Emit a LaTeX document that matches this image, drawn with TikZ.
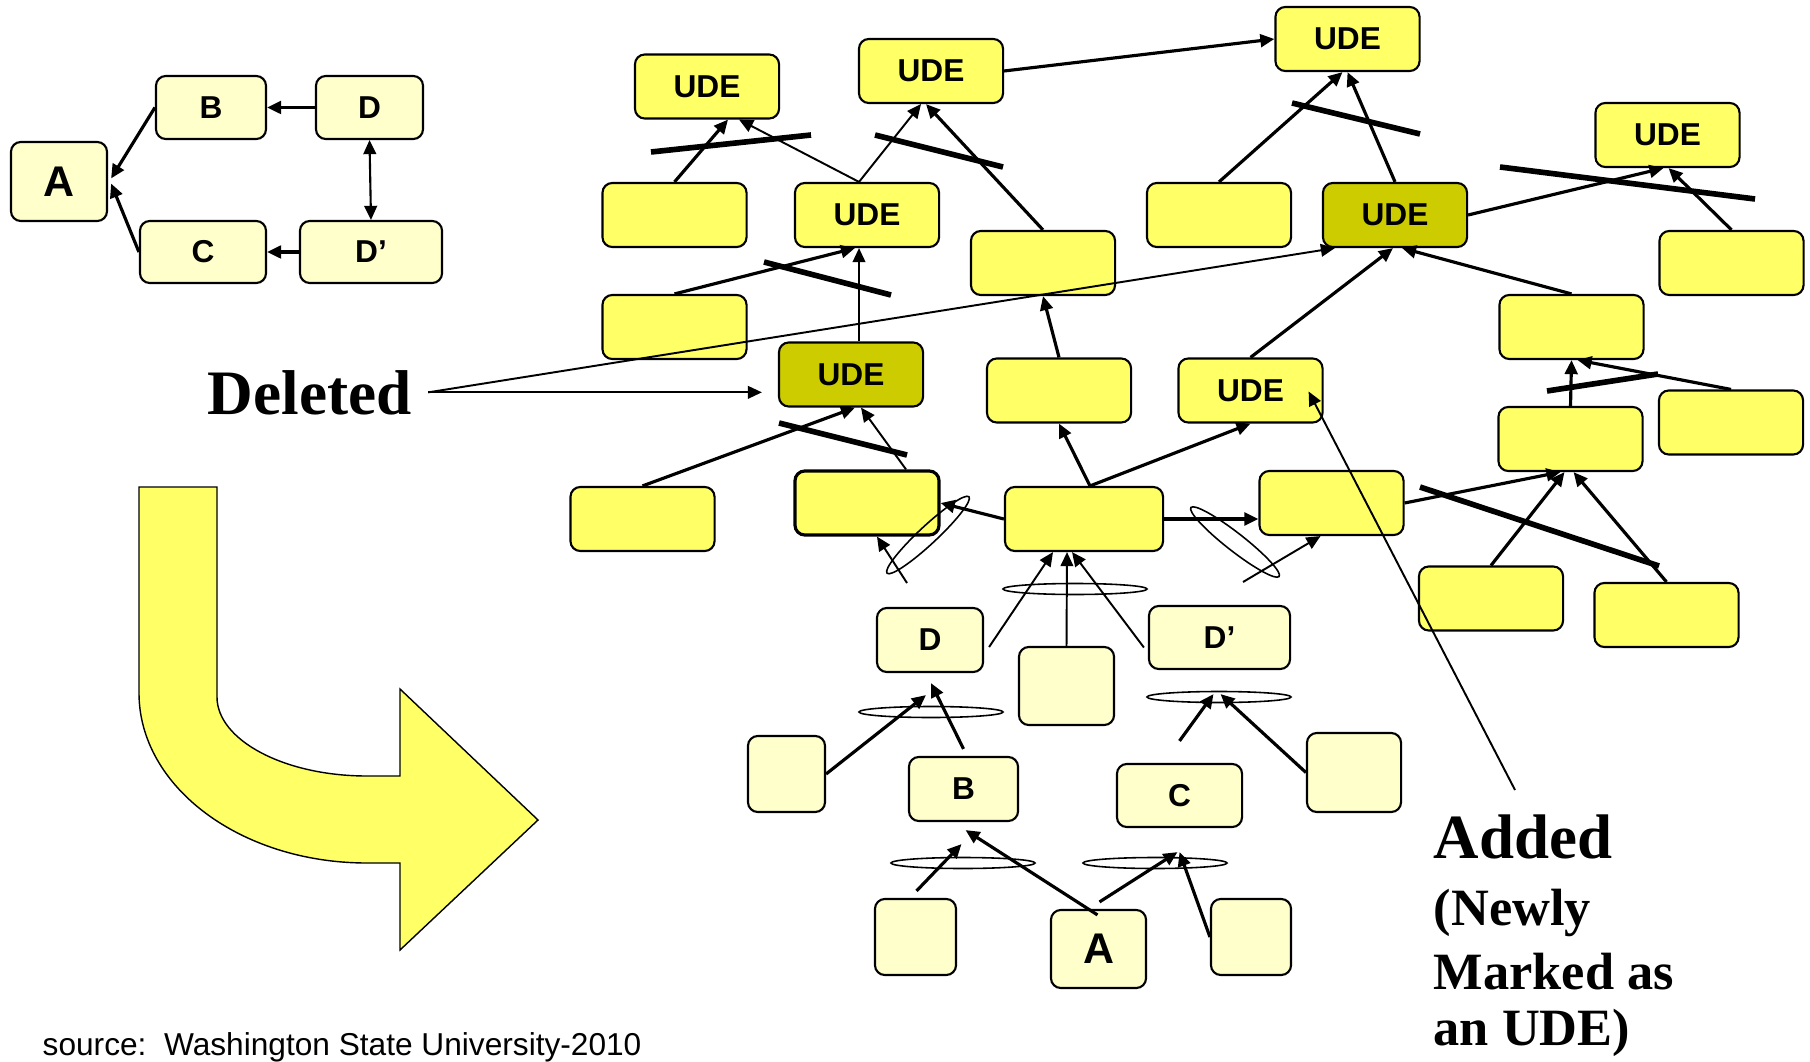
\documentclass[tikz,border=0pt]{standalone}
\usepackage{fontspec}
\setmainfont{Liberation Serif}
\setsansfont{Liberation Sans}
\usepackage{xcolor}
\definecolor{cYellow}{HTML}{FFFF66}
\definecolor{cPale}{HTML}{FFFFCC}
\definecolor{cOlive}{HTML}{CCCC00}
\usetikzlibrary{arrows.meta,calc}
\tikzset{
  node-box/.style={draw=black,line width=0.6pt,rounded corners=2.8pt,
    fill=cYellow,inner sep=0pt,minimum width=1.44cm,minimum height=0.64cm,
    font=\sffamily\bfseries\fontsize{9}{10}\selectfont},
  node-pale/.style={fill=cPale},
  node-del/.style={fill=cOlive},
  node-big/.style={font=\sffamily\bfseries\fontsize{12.2}{14}\selectfont},
  arrow/.style={-{Triangle[length=4pt,width=3.6pt]},line width=0.9pt},
  arrow-thin/.style={-{Triangle[length=4pt,width=3.6pt]},line width=0.55pt},
  arrow-both/.style={{Triangle[length=4pt,width=3.6pt]}-{Triangle[length=4pt,width=3.6pt]},line width=0.6pt},
  strike/.style={line width=1.6pt},
  ring/.style={line width=0.45pt},
}

\begin{document}
\begin{tikzpicture}[x=0.01cm,y=-0.01cm]
  \useasboundingbox (0,0) rectangle (1810,1061);

  % small map
  \node[node-box,node-pale,node-big,minimum width=0.96cm,minimum height=0.79cm] (sA) at (59,181.5) {A};
  \node[node-box,node-pale,minimum width=1.10cm,minimum height=0.63cm] (sB) at (211,107.5) {B};
  \node[node-box,node-pale,minimum width=1.07cm,minimum height=0.63cm] (sD) at (369.5,107.5) {D};
  \node[node-box,node-pale,minimum width=1.26cm,minimum height=0.62cm] (sC) at (203,252) {C};
  \node[node-box,node-pale,minimum width=1.42cm,minimum height=0.62cm] (sDp) at (371,252) {D’};

  \draw[arrow] (sB.west) -- ($(sA.east)+(3,-3)$);
  \draw[arrow] (sC.west) -- ($(sA.east)+(3,2)$);
  \draw[arrow] (sD.west) -- (sB.east);
  \draw[arrow] (sDp.west) -- (sC.east);
  \draw[arrow-both] (sD.south) -- (sDp.north);

  % big bent arrow
  \draw[fill=cYellow,line width=0.4pt] (139,487) -- (139,693)
    .. controls (139,787) and (241,863) .. (367,863) -- (400,863)
    -- (400,950) -- (538,820) -- (400,689) -- (400,776) -- (367,776)
    .. controls (284,776) and (217,740) .. (217,697) -- (217,487) -- cycle;

  % tree of effects
  \node[node-box] (ude1) at (707,86.5) {UDE};
  \node[node-box] (ude2) at (931,71) {UDE};
  \node[node-box] (udeTop) at (1347.5,39) {UDE};
  \node[node-box] (udeR) at (1667.5,135) {UDE};
  \node[node-box] (n1) at (674.5,215) {};
  \node[node-box] (ude3) at (867,215) {UDE};
  \node[node-box] (n2) at (1043,263) {};
  \node[node-box] (n3) at (1219,215) {};
  \node[node-box,node-del] (udeDelB) at (1395,215) {UDE};
  \node[node-box] (n4) at (1731.5,263) {};
  \node[node-box] (n5) at (1571.5,327) {};
  \node[node-box] (n6) at (674.5,327) {};
  \node[node-box,node-del] (udeDelA) at (851,374.5) {UDE};
  \node[node-box] (n7) at (1059,390.5) {};
  \node[node-box] (udeNew) at (1250.5,390.5) {UDE};
  \node[node-box] (n8) at (1570.5,439) {};
  \node[node-box] (n9) at (1731,422.5) {};
  \node[node-box] (n10) at (642.5,519) {};
  \node[node-box,line width=0.9pt] (n11) at (867,503) {};
  \node[node-box,minimum width=1.58cm] (hub) at (1084,519) {};
  \node[node-box] (n12) at (1331.5,503) {};
  \node[node-box] (n13) at (1491,598.5) {};
  \node[node-box] (n14) at (1666.5,615) {};

  % injections
  \node[node-box,node-pale,minimum width=1.06cm] (lD) at (930,640) {D};
  \node[node-box,node-pale,minimum width=0.95cm,minimum height=0.78cm] (lx1) at (1066.5,686) {};
  \node[node-box,node-pale,minimum width=1.41cm,minimum height=0.63cm] (lDp) at (1219.5,637.5) {D’};
  \node[node-box,node-pale,minimum width=0.77cm,minimum height=0.76cm] (lx2) at (786.5,774) {};
  \node[node-box,node-pale,minimum width=1.09cm] (lB) at (963.5,789) {B};
  \node[node-box,node-pale,minimum width=1.25cm,minimum height=0.63cm] (lC) at (1179.5,795.5) {C};
  \node[node-box,node-pale,minimum width=0.94cm,minimum height=0.79cm] (lx3) at (1354,772.5) {};
  \node[node-box,node-pale,minimum width=0.81cm,minimum height=0.76cm] (lx4) at (915.5,937) {};
  \node[node-box,node-pale,node-big,minimum width=0.95cm,minimum height=0.78cm] (lA) at (1098.5,949) {A};
  \node[node-box,node-pale,minimum width=0.80cm,minimum height=0.76cm] (lx5) at (1251,937) {};

  % upper links
  \draw[arrow] (n1.north) -- ($(ude1.south)+(21,0)$);
  \draw[arrow-thin] ($(ude3.north)+(-8,0)$) -- ($(ude1.south)+(32,0)$);
  \draw[arrow-thin] ($(ude3.north)+(-8,0)$) -- ($(ude2.south)+(-10,0)$);
  \draw[arrow] (n2.north) -- ($(ude2.south)+(-5,0)$);
  \draw[arrow] (n6.north) -- ($(ude3.south)+(-12,0)$);
  \draw[arrow-thin] ($(udeDelA.north)+(8,0)$) -- ($(ude3.south)+(-8,0)$);
  \draw[arrow] (ude2.east) -- (udeTop.west);
  \draw[arrow] (n7.north) -- (n2.south);
  \draw[arrow] (n3.north) -- ($(udeTop.south)+(-5,0)$);
  \draw[arrow] (udeDelB.north) -- (udeTop.south);
  \draw[arrow] (udeDelB.east) -- ($(udeR.south)+(-4,0)$);
  \draw[arrow] (n4.north) -- ($(udeR.south)+(1,0)$);
  \draw[arrow] (n5.north) -- ($(udeDelB.south)+(7,0)$);
  \draw[arrow] (udeNew.north) -- ($(udeDelB.south)+(-2,0)$);
  \draw[arrow] (n8.north) -- (n5.south);
  \draw[arrow] (n9.north) -- ($(n5.south)+(6,0)$);

  % middle links
  \draw[arrow] (n10.north) -- ($(udeDelA.south)+(4,0)$);
  \draw[arrow-thin] ($(n11.north)+(39,0)$) -- ($(udeDelA.south)+(10,0)$);
  \draw[arrow] ($(hub.north)+(6,0)$) -- (n7.south);
  \draw[arrow] ($(hub.north)+(6,0)$) -- (udeNew.south);
  \draw[arrow] (hub.west) -- (n11.east);
  \coordinate (inL) at (907,583);
  \draw[arrow-thin] (inL) -- ($(n11.south)+(10,0)$);
  \draw[arrow] (hub.east) -- (hub.east -| n12.west);
  \coordinate (inR) at (1243,582);
  \draw[arrow-thin] (inR) -- ($(n12.south)+(-11,0)$);
  \draw[arrow] (n12.east) -- ($(n8.south)+(-10,0)$);
  \draw[arrow] (n13.north) -- ($(n8.south)+(-6,0)$);
  \draw[arrow] (n14.north) -- ($(n8.south)+(3,0)$);

  % lower links
  \draw[arrow-thin] ($(lD.east)+(5,7)$) -- ($(hub.south)+(-31,0)$);
  \draw[arrow-thin] (lx1.north) -- ($(hub.south)+(-17,0)$);
  \draw[arrow-thin] ($(lDp.west)+(-4,10)$) -- ($(hub.south)+(-12,0)$);
  \draw[arrow] (lx2.east) -- ($(lD.south)+(-4,22)$);
  \draw[arrow] ($(lB.north)+(0,-7)$) -- ($(lD.south)+(1,10)$);
  \draw[arrow] ($(lC.north)+(0,-22)$) -- ($(lDp.south)+(-6,24)$);
  \draw[arrow] (lx3.west) -- ($(lDp.south)+(1,24)$);
  \draw[arrow] ($(lx4.north)+(1,-7)$) -- ($(lB.south)+(-2,22)$);
  \draw[arrow] ($(lA.north)+(-1,6)$) -- ($(lB.south)+(2,8)$);
  \draw[arrow] ($(lA.north)+(1,-7)$) -- ($(lC.south)+(-2,24)$);
  \draw[arrow] (lx5.west) -- ($(lC.south)+(0,24)$);

  % broken links
  \draw[strike] (651,152) -- (811,135);
  \draw[strike] (875,135) -- (1003,167);
  \draw[strike] (764,262) -- (891,295);
  \draw[strike] (1292,103) -- (1420,134);
  \draw[strike] (1500,167) -- (1755,199);
  \draw[strike] (1547,391) -- (1658,374);
  \draw[strike] (779,423) -- (907,455);
  \draw[strike] (1420,487) -- (1659,566);

  % and-rings
  \draw[ring,rotate around={43:(928,535)}] (928,535) ellipse [x radius=56,y radius=9];
  \draw[ring,rotate around={-38:(1235,542)}] (1235,542) ellipse [x radius=56,y radius=9];
  \draw[ring] (1075,589) ellipse [x radius=72,y radius=5.5];
  \draw[ring] (931,712) ellipse [x radius=72,y radius=5.5];
  \draw[ring] (1219,697) ellipse [x radius=72,y radius=5.5];
  \draw[ring] (963,863) ellipse [x radius=72,y radius=5.5];
  \draw[ring] (1155,863) ellipse [x radius=72,y radius=5.5];

  % labels
  \node[font=\bfseries\fontsize{18}{20}\selectfont,inner sep=0pt,anchor=base west] (deleted) at (207,414) {Deleted};
  \coordinate (delStart) at ($(deleted.east)+(16,0)$);
  \draw[arrow-thin] (delStart) -- ($(delStart -| udeDelA.west)+(-16,0)$);
  \draw[arrow-thin] (delStart) -- ($(udeDelB.south west)+(13,0)$);

  \node[font=\bfseries\fontsize{14.9}{16.3}\selectfont,align=left,inner sep=0pt,anchor=north west] (added) at (1433,814)
    {{\fontsize{17.9}{16.3}\selectfont Added}\\[2.9pt](Newly\\[1.85pt]Marked as\\[-0.55pt]an UDE)};
  \draw[arrow-thin] ($(added.north west)+(82,-24)$) -- ($(udeNew.east)+(-15,1)$);

  \node[font=\sffamily\fontsize{9}{11}\selectfont,inner sep=0pt,anchor=base west] (src) at (42,1055) {source:\ \ Washington State University-2010};
\end{tikzpicture}
\end{document}
